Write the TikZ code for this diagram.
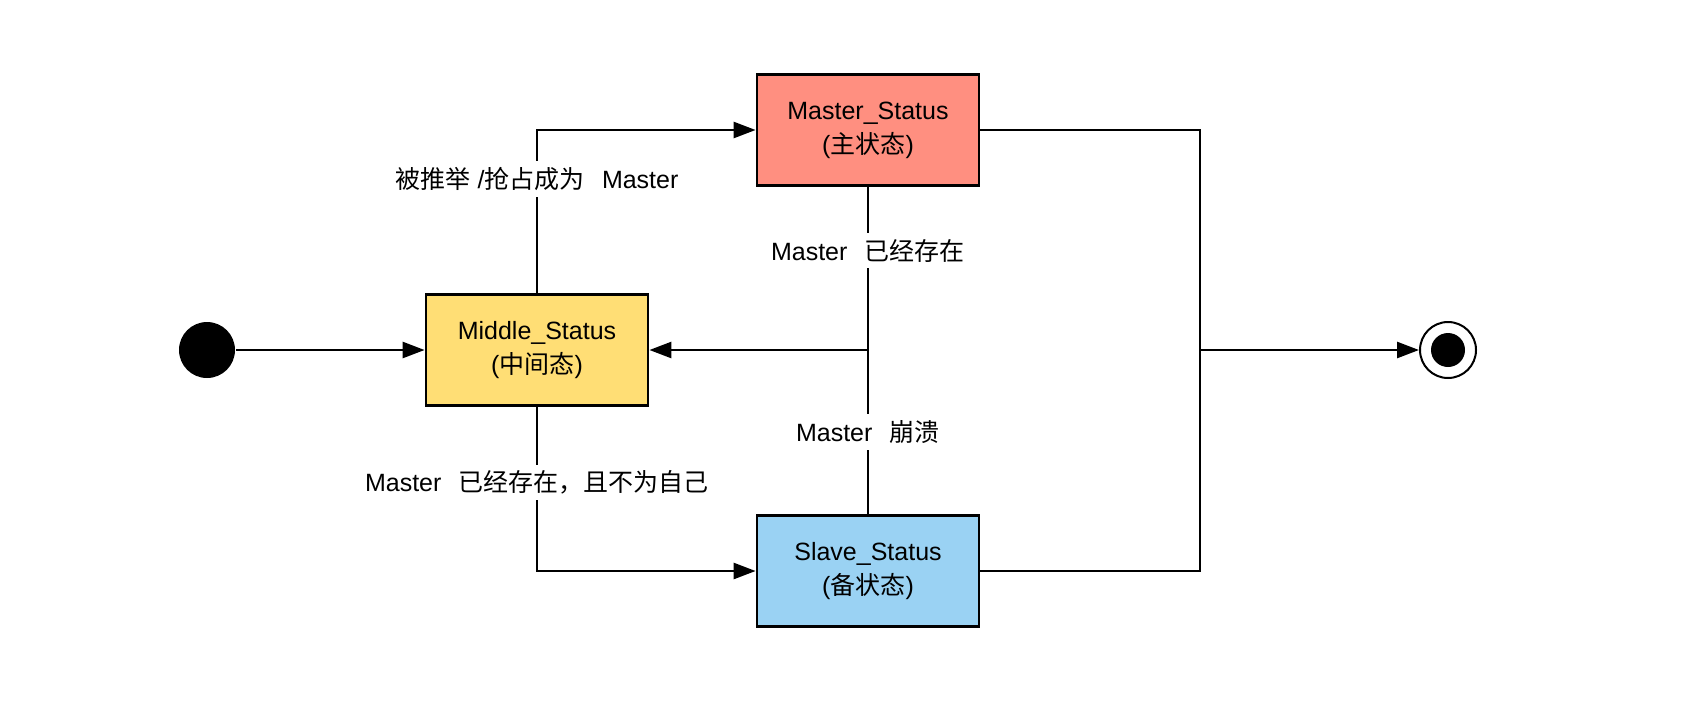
\documentclass[tikz,border=0pt]{standalone}
\usepackage{fontspec}
\setmainfont{Liberation Sans}
\newfontfamily\cjk{Noto Sans CJK SC}
\usetikzlibrary{arrows.meta,positioning}
\definecolor{masterred}{RGB}{255,143,128}
\definecolor{middleyellow}{RGB}{255,222,117}
\definecolor{slaveblue}{RGB}{154,210,243}
\newcommand{\zh}[1]{{\cjk #1}}
\newcommand{\gap}{\hspace{0.7em}}

\begin{document}
\begin{tikzpicture}[x=0.5pt,y=-0.5pt,line width=1.3pt,
  state/.style={rectangle,draw,line width=1.4pt,minimum width=111pt,minimum height=55.5pt,
    align=center,font=\fontsize{12.5}{17}\selectfont},
  lbl/.style={fill=white,inner sep=3pt,font=\fontsize{12.5}{17}\selectfont},
  arr/.style={-{Triangle[length=11pt,width=8pt]}}]
  \useasboundingbox (0,0) rectangle (1696,724);

  \node[circle,fill=black,minimum size=28pt,inner sep=0pt] (start) at (207,350) {};
  \node[circle,draw,line width=1pt,fill=white,minimum size=28pt,inner sep=0pt] (end) at (1448,350) {};
  \fill (end.center) circle (8.5pt);

  \node[state,fill=middleyellow] (middle) at (537,350) {Middle\_Status\\(\zh{中间态})};
  \node[state,fill=masterred] (master) at (868,130) {Master\_Status\\(\zh{主状态})};
  \node[state,fill=slaveblue] (slave) at (868,571) {Slave\_Status\\(\zh{备状态})};

  \coordinate (jm) at (868,350);
  \coordinate (jr) at (1200,350);

  \draw[arr] (start) -- (middle);
  \draw[arr] (middle) |- (master) node[lbl,pos=0.35] {\zh{被推举} /\zh{抢占成为}\gap Master};
  \draw[arr] (middle) |- (slave) node[lbl,pos=0.23] {Master\gap\zh{已经存在，且不为自己}};
  \draw (master) -- (jm) node[lbl,pos=0.39] {Master\gap\zh{已经存在}};
  \draw (slave) -- (jm) node[lbl,midway] {Master\gap\zh{崩溃}};
  \draw[arr] (jm) -- (middle);
  \draw (master) -| (jr);
  \draw (slave) -| (jr);
  \draw[arr] (jr) -- (end);
\end{tikzpicture}
\end{document}
